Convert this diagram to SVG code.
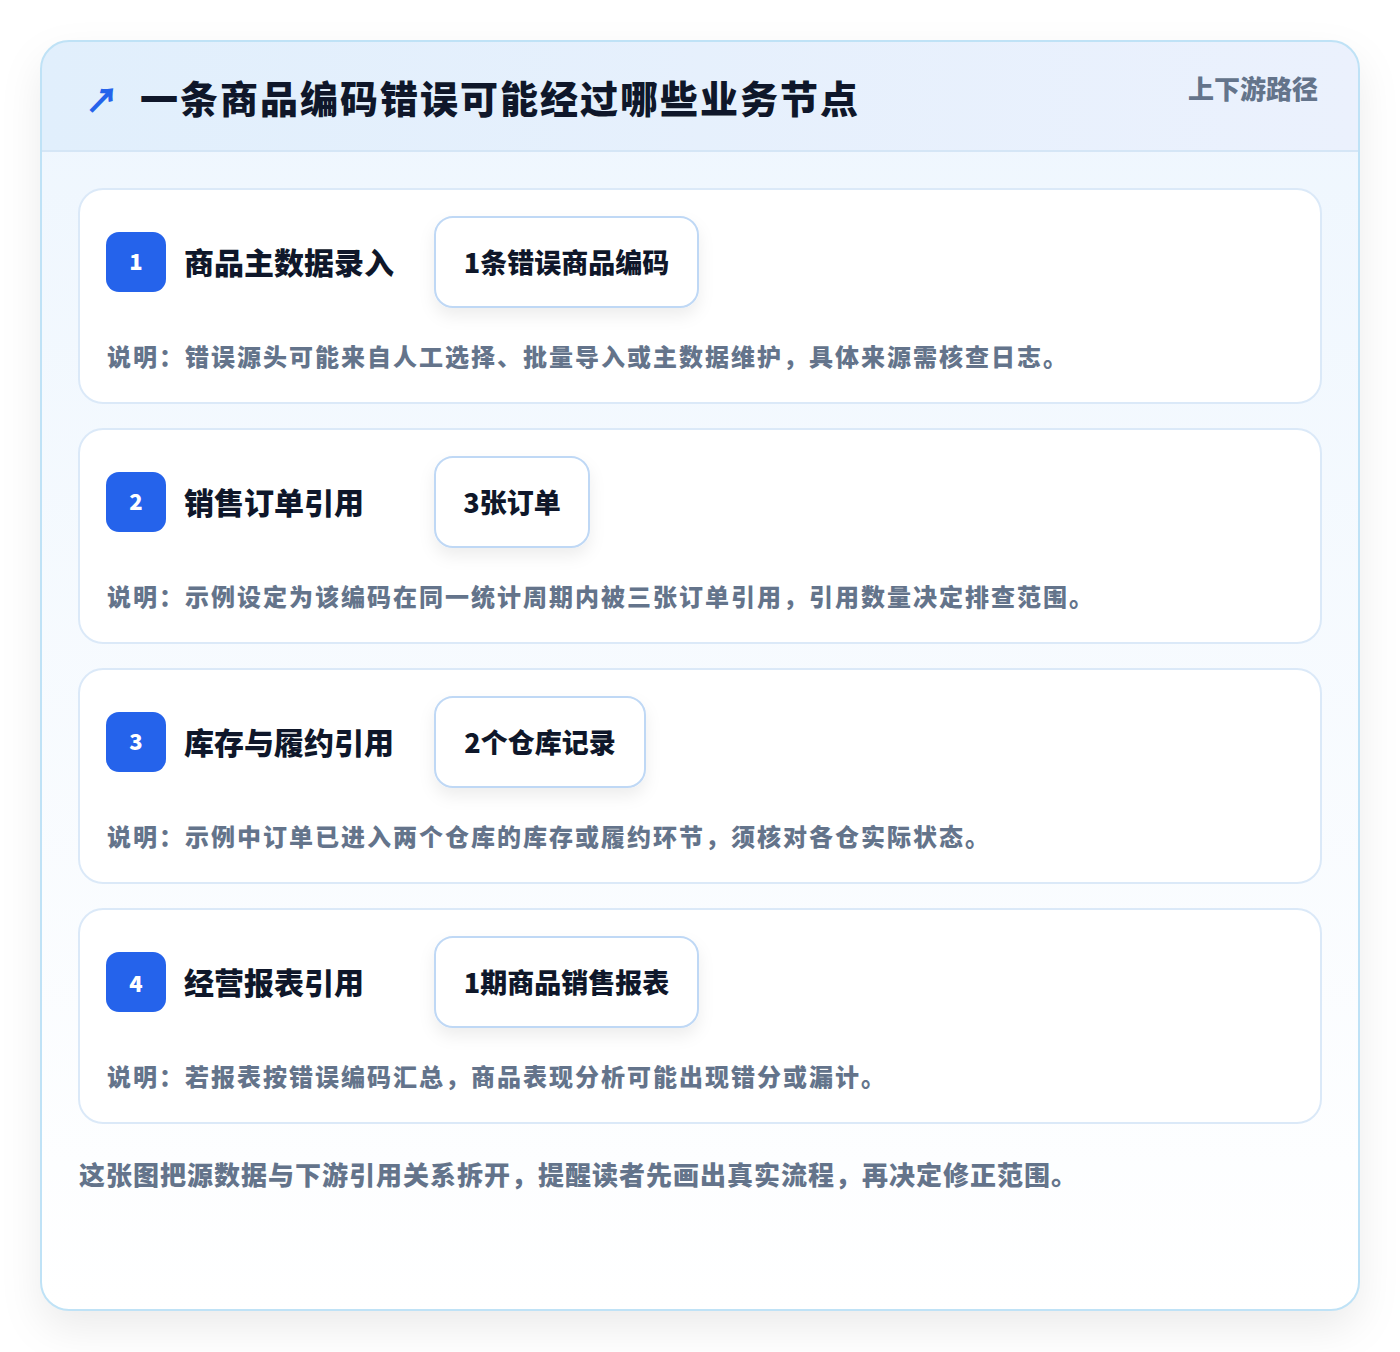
<svg xmlns="http://www.w3.org/2000/svg" width="1400" height="1352" viewBox="0 0 1400 1352">
  <defs>
    <style>
      .cjk { font-family: "Noto Sans CJK SC", "Noto Sans", sans-serif; font-weight: 900; }
      .card { fill: #ffffff; stroke: #dbe9f8; stroke-width: 2; }
      .badge { fill: #2563eb; }
      .badge-t { fill: #ffffff; font-size: 22px; text-anchor: middle; }
      .label { fill: #0f172a; font-size: 30px; }
      .pill { fill: #ffffff; stroke: #bfd8f5; stroke-width: 2; }
      .pill-t { fill: #0f172a; font-size: 27px; text-anchor: middle; }
      .desc { fill: #64748b; font-size: 24px; letter-spacing: 2px; }
    </style>
    <linearGradient id="hdr" x1="0" y1="0" x2="1" y2="0">
      <stop offset="0" stop-color="#e1effc"/>
      <stop offset="1" stop-color="#ebf1fd"/>
    </linearGradient>
    <linearGradient id="body" x1="0" y1="0" x2="0" y2="1">
      <stop offset="0" stop-color="#eef6fe"/>
      <stop offset="1" stop-color="#ffffff"/>
    </linearGradient>
    <filter id="outerShadow" x="-10%" y="-10%" width="120%" height="125%">
      <feDropShadow dx="0" dy="18" stdDeviation="20" flood-color="#0f172a" flood-opacity="0.08"/>
    </filter>
    <filter id="pillShadow" x="-20%" y="-30%" width="140%" height="170%">
      <feDropShadow dx="0" dy="8" stdDeviation="8" flood-color="#0f172a" flood-opacity="0.07"/>
    </filter>
    <clipPath id="outerClip">
      <rect x="41" y="41" width="1318" height="1269" rx="28"/>
    </clipPath>
  </defs>

  <rect width="1400" height="1352" fill="#ffffff"/>

  <g id="frame">
    <rect x="41" y="41" width="1318" height="1269" rx="28" fill="url(#body)" filter="url(#outerShadow)"/>
    <g clip-path="url(#outerClip)">
      <rect x="41" y="41" width="1318" height="110" fill="url(#hdr)"/>
      <line x1="41" y1="151" x2="1359" y2="151" stroke="#d5e6f6" stroke-width="2"/>
    </g>
    <rect x="41" y="41" width="1318" height="1269" rx="28" fill="none" stroke="#bfe2f6" stroke-width="2"/>
  </g>

  <g id="header">
    <text x="85" y="113" class="cjk" font-size="34" font-weight="400" fill="#2563eb">↗</text>
    <text x="140" y="113" class="cjk" font-size="38" letter-spacing="2" fill="#0f172a">一条商品编码错误可能经过哪些业务节点</text>
    <text x="1318" y="99" class="cjk" font-size="26" fill="#64748b" text-anchor="end">上下游路径</text>
  </g>

  <g id="node1">
    <rect x="79" y="189" width="1242" height="214" rx="24" class="card"/>
    <rect x="106" y="232" width="60" height="60" rx="13" class="badge"/>
    <text x="136" y="270" class="cjk badge-t">1</text>
    <text x="184" y="274" class="cjk label">商品主数据录入</text>
    <rect x="435" y="217" width="263" height="90" rx="18" class="pill" filter="url(#pillShadow)"/>
    <text x="566.5" y="273" class="cjk pill-t">1条错误商品编码</text>
    <text x="107" y="366" class="cjk desc">说明：错误源头可能来自人工选择、批量导入或主数据维护，具体来源需核查日志。</text>
  </g>

  <g id="node2">
    <rect x="79" y="429" width="1242" height="214" rx="24" class="card"/>
    <rect x="106" y="472" width="60" height="60" rx="13" class="badge"/>
    <text x="136" y="510" class="cjk badge-t">2</text>
    <text x="184" y="514" class="cjk label">销售订单引用</text>
    <rect x="435" y="457" width="154" height="90" rx="18" class="pill" filter="url(#pillShadow)"/>
    <text x="512" y="513" class="cjk pill-t">3张订单</text>
    <text x="107" y="606" class="cjk desc">说明：示例设定为该编码在同一统计周期内被三张订单引用，引用数量决定排查范围。</text>
  </g>

  <g id="node3">
    <rect x="79" y="669" width="1242" height="214" rx="24" class="card"/>
    <rect x="106" y="712" width="60" height="60" rx="13" class="badge"/>
    <text x="136" y="750" class="cjk badge-t">3</text>
    <text x="184" y="754" class="cjk label">库存与履约引用</text>
    <rect x="435" y="697" width="210" height="90" rx="18" class="pill" filter="url(#pillShadow)"/>
    <text x="540" y="753" class="cjk pill-t">2个仓库记录</text>
    <text x="107" y="846" class="cjk desc">说明：示例中订单已进入两个仓库的库存或履约环节，须核对各仓实际状态。</text>
  </g>

  <g id="node4">
    <rect x="79" y="909" width="1242" height="214" rx="24" class="card"/>
    <rect x="106" y="952" width="60" height="60" rx="13" class="badge"/>
    <text x="136" y="992" class="cjk badge-t">4</text>
    <text x="184" y="994" class="cjk label">经营报表引用</text>
    <rect x="435" y="937" width="263" height="90" rx="18" class="pill" filter="url(#pillShadow)"/>
    <text x="566.5" y="993" class="cjk pill-t">1期商品销售报表</text>
    <text x="107" y="1086" class="cjk desc">说明：若报表按错误编码汇总，商品表现分析可能出现错分或漏计。</text>
  </g>

  <g id="connectors"></g>

  <g id="footer">
    <text x="79" y="1185" class="cjk" font-size="26" letter-spacing="1" fill="#64748b">这张图把源数据与下游引用关系拆开，提醒读者先画出真实流程，再决定修正范围。</text>
  </g>
</svg>
